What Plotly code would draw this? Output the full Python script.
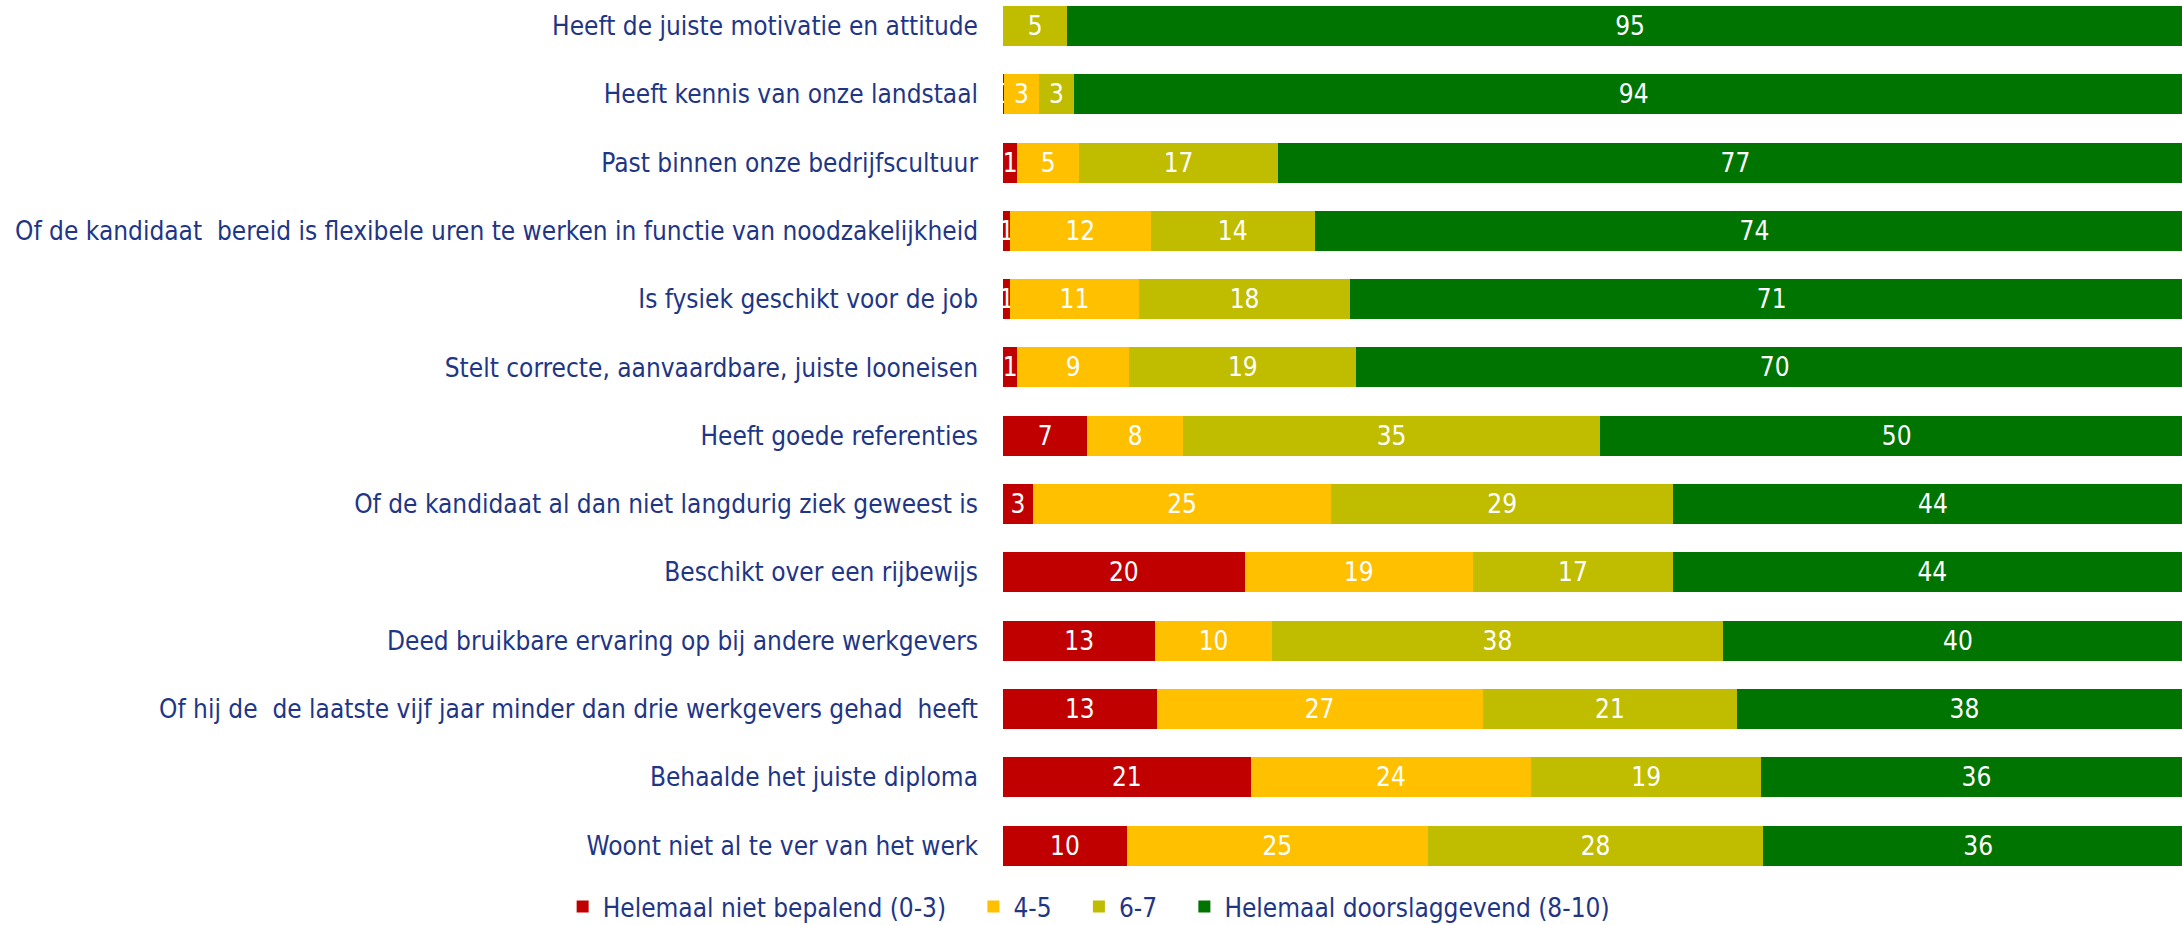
import plotly.graph_objects as go

# categories, top to bottom
categories = [
    "Heeft de juiste motivatie en attitude",
    "Heeft kennis van onze landstaal",
    "Past binnen onze bedrijfscultuur",
    "Of de kandidaat  bereid is flexibele uren te werken in functie van noodzakelijkheid",
    "Is fysiek geschikt voor de job",
    "Stelt correcte, aanvaardbare, juiste looneisen",
    "Heeft goede referenties",
    "Of de kandidaat al dan niet langdurig ziek geweest is",
    "Beschikt over een rijbewijs",
    "Deed bruikbare ervaring op bij andere werkgevers",
    "Of hij de  de laatste vijf jaar minder dan drie werkgevers gehad  heeft",
    "Behaalde het juiste diploma",
    "Woont niet al te ver van het werk",
]

# percentages per score group
niet_bepalend = [0, 0.1, 1.2, 0.6, 0.6, 1.2, 7.1, 2.5, 20.3, 12.8, 12.9, 20.8, 10.4]
score_4_5 = [0, 2.9, 5.2, 11.8, 10.8, 9.4, 8.0, 25.1, 19.2, 9.8, 27.4, 23.6, 25.3]
score_6_7 = [5.4, 3.0, 16.7, 13.8, 17.8, 19.1, 35.1, 28.7, 16.8, 37.9, 21.4, 19.3, 28.2]
doorslaggevend = [94.6, 94.0, 76.9, 73.9, 70.8, 70.3, 49.8, 43.7, 43.6, 39.5, 38.2, 36.2, 36.1]

series_names = ["Helemaal niet bepalend (0-3)", "4-5", "6-7", "Helemaal doorslaggevend (8-10)"]
series_values = [niet_bepalend, score_4_5, score_6_7, doorslaggevend]
series_colors = ["#C00000", "#FFC000", "#C0BC00", "#007400"]

FONT = "DejaVu Sans Condensed, Tahoma, sans-serif"
NAVY = "#1F3686"
PAD = "\u00a0" * 3  # extra room between legend entries

fig = go.Figure()
for i, (name, vals, col) in enumerate(zip(series_names, series_values, series_colors)):
    fig.add_trace(go.Bar(
        y=list(range(len(categories))),
        x=vals,
        name=name + (PAD if i < len(series_names) - 1 else ""),
        orientation="h",
        marker=dict(color=col, line_width=0),
        texttemplate="%{x:.0f}",
        textposition="inside",
        insidetextanchor="middle",
        constraintext="none",
        textfont=dict(color="white", size=26, family=FONT),
    ))

# figure is slightly taller than the window so the legend sits low like
# the original one; the few extra pixels fall below the fold
fig.update_layout(
    width=2182,
    height=930,
    barmode="stack",
    bargap=0.414,
    plot_bgcolor="white",
    paper_bgcolor="white",
    margin=dict(l=1003, r=0, t=0, b=0),
    font=dict(family=FONT, color=NAVY, size=26),
    legend=dict(
        orientation="h",
        x=-0.3735, xanchor="left",
        y=0, yanchor="bottom",
        font=dict(size=26, color=NAVY),
        traceorder="normal",
        itemwidth=30,
        bgcolor="rgba(0,0,0,0)",
    ),
)

# adjust xaxis formatting
fig.update_xaxes(range=[0, 99.08], visible=False, fixedrange=True)

# adjust yaxis formatting
fig.update_yaxes(
    tickmode="array",
    tickvals=list(range(len(categories))),
    ticktext=categories,
    range=[13.236, -0.38],
    showgrid=False,
    zeroline=False,
    showline=False,
    ticks="",
    ticklabelstandoff=24,
    tickfont=dict(size=26, color=NAVY, family=FONT),
    fixedrange=True,
)

# drop the default page margin and scrollbars so the figure fills the window
fig.write_html(
    "out.html",
    config={"displayModeBar": False},
    post_script="document.body.style.margin = '0'; document.body.style.overflow = 'hidden';",
)
